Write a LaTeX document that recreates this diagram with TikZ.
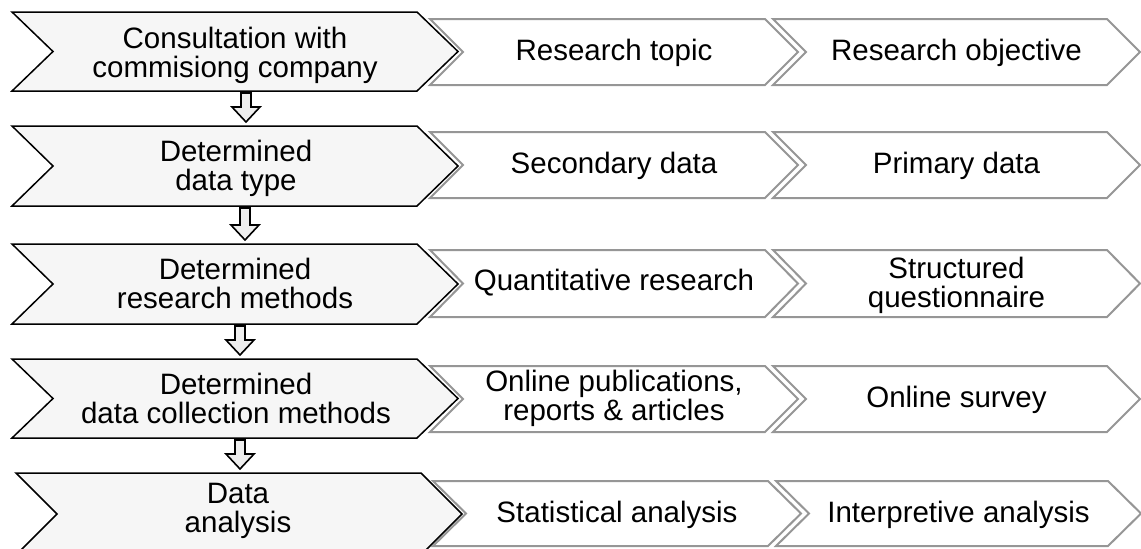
\documentclass[tikz,border=0pt]{standalone}
\usepackage{fontspec}
\setmainfont{Liberation Sans}
\usetikzlibrary{calc}
\definecolor{mainfill}{RGB}{246,246,246}
\definecolor{secline}{RGB}{150,150,150}
\definecolor{arrowfill}{RGB}{238,238,238}
\tikzset{
  chevbox/.style={draw=none, inner sep=0pt, outer sep=0pt},
  mainchev/.style={draw=black, line width=1.5pt, fill=mainfill, line join=miter},
  secchev/.style={draw=secline, line width=2pt, fill=white, line join=miter},
  txt/.style={inner sep=0pt, align=center, font=\fontsize{29.5pt}{29pt}\selectfont},
  barrow/.style={draw=black, line width=1.6pt, fill=arrowfill, line join=miter}
}
% style, name, xl, xr, yt, yb, depth
\newcommand{\chevshape}[7]{%
  \node[chevbox, minimum width={(#4-#3)*1pt}, minimum height={(#6-#5)*1pt}] (#2) at ({(#3+#4)/2},{(#5+#6)/2}) {};
  \draw[#1] (#2.north west) -- ([xshift=-#7pt]#2.north east) -- (#2.east) -- ([xshift=-#7pt]#2.south east) -- (#2.south west) -- ([xshift=#7pt]#2.west) -- cycle;
}
% from, to, x centre
\newcommand{\blockarrow}[3]{%
  \draw[barrow] let \p1=(#1.south), \p2=(#2.north) in
    (#3pt-5pt,\y1-2pt) -- (#3pt-5pt,\y2+19pt) -- (#3pt-14pt,\y2+19pt) -- (#3pt,\y2+4pt)
    -- (#3pt+14pt,\y2+19pt) -- (#3pt+5pt,\y2+19pt) -- (#3pt+5pt,\y1-2pt) -- cycle;
}
\begin{document}
\begin{tikzpicture}[x=1pt,y=-1pt]
\useasboundingbox (0,0) rectangle (1141,549);
\clip (0,0) rectangle (1141,549);
% row 1
\chevshape{mainchev}{m1}{12}{458}{12}{91}{41}
\chevshape{secchev}{a1}{430}{798}{19}{85}{33}
\chevshape{secchev}{b1}{773}{1140}{19}{85}{33}
\node[txt] (m1t) at (235,55) {Consultation with\\commisiong company};
\node[txt] (a1t) at (614,53) {Research topic};
\node[txt] (b1t) at (956.5,53) {Research objective};
% row 2
\chevshape{mainchev}{m2}{12}{458}{126}{206}{41}
\chevshape{secchev}{a2}{430}{798}{132}{198}{33}
\chevshape{secchev}{b2}{773}{1140}{132}{198}{33}
\node[txt] (m2t) at (236,168) {Determined\\data type};
\node[txt] (a2t) at (614,166) {Secondary data};
\node[txt] (b2t) at (956.5,166) {Primary data};
% row 3
\chevshape{mainchev}{m3}{12}{458}{244}{324}{41}
\chevshape{secchev}{a3}{430}{798}{250}{317}{33}
\chevshape{secchev}{b3}{773}{1140}{250}{317}{33}
\node[txt] (m3t) at (235,283) {Determined\\research methods};
\node[txt] (a3t) at (614,283) {Quantitative research};
\node[txt] (b3t) at (956.5,285) {Structured\\questionnaire};
% row 4
\chevshape{mainchev}{m4}{12}{458}{359}{438}{41}
\chevshape{secchev}{a4}{430}{798}{366}{432}{33}
\chevshape{secchev}{b4}{773}{1140}{366}{432}{33}
\node[txt] (m4t) at (236,398.5) {Determined\\data collection methods};
\node[txt] (a4t) at (614,398) {Online publications,\\reports \& articles};
\node[txt] (b4t) at (956.5,400) {Online survey};
% row 5
\chevshape{mainchev}{m5}{16}{462}{473}{555}{41}
\chevshape{secchev}{a5}{433}{801}{481}{546}{33}
\chevshape{secchev}{b5}{776}{1141}{481}{546}{33}
\node[txt] (m5t) at (238,511) {Data\\analysis};
\node[txt] (a5t) at (617,514.5) {Statistical analysis};
\node[txt] (b5t) at (958.5,514.5) {Interpretive analysis};
% arrows
\blockarrow{m1}{m2}{246}
\blockarrow{m2}{m3}{245}
\blockarrow{m3}{m4}{240}
\blockarrow{m4}{m5}{240}
\end{tikzpicture}
\end{document}
